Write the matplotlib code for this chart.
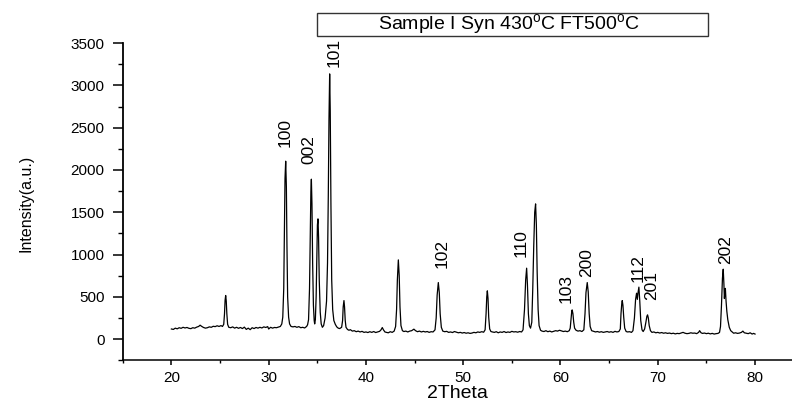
import matplotlib
matplotlib.use("Agg")
import matplotlib.pyplot as plt
from matplotlib.patches import Rectangle
from matplotlib.ticker import MultipleLocator

plt.rcParams['font.family'] = ['Liberation Sans', 'DejaVu Sans']
plt.rcParams['mathtext.fontset'] = 'custom'
plt.rcParams['mathtext.rm'] = 'Liberation Sans'

# XRD pattern (2theta, counts)
two_theta = [
    20.0, 20.2, 20.4, 20.6, 20.8, 21.0, 21.2, 21.4, 21.6, 21.8, 22.0, 22.2, 22.4, 22.6, 22.8, 22.95,
    23.1, 23.3, 23.5, 23.7, 23.9, 24.1, 24.3, 24.5, 24.7, 24.9, 25.1, 25.25,
    25.38, 25.46, 25.52, 25.58, 25.64, 25.7, 25.78, 25.9,
    26.1, 26.3, 26.5, 26.7, 26.9, 27.1, 27.3, 27.5, 27.7, 27.9, 28.1, 28.3, 28.5, 28.7, 28.9, 29.1,
    29.3, 29.5, 29.7, 29.9, 30.0, 30.2, 30.4, 30.6, 30.8, 31.0, 31.2, 31.35,
    31.45, 31.55, 31.62, 31.68, 31.75, 31.82, 31.88, 31.95, 32.05, 32.15, 32.3,
    32.5, 32.7, 32.9, 33.1, 33.3, 33.5, 33.7, 33.9, 34.0,
    34.1, 34.2, 34.28, 34.34, 34.39, 34.45, 34.52, 34.6, 34.68, 34.73, 34.8,
    34.88, 34.95, 35.01, 35.07, 35.13, 35.2, 35.3, 35.4, 35.52, 35.65, 35.8,
    35.95, 36.05, 36.13, 36.2, 36.27, 36.33, 36.4, 36.48, 36.58, 36.7, 36.85, 37.0, 37.15, 37.3, 37.5,
    37.6, 37.66, 37.74, 37.8, 37.87, 37.95, 38.1, 38.25, 38.4, 38.6, 38.8, 39.0, 39.2, 39.4, 39.6,
    39.8, 40.0, 40.2, 40.4, 40.6, 40.8, 41.0, 41.2, 41.4, 41.55, 41.68, 41.8, 41.95, 42.1, 42.3,
    42.5, 42.7, 42.9, 43.05,
    43.15, 43.23, 43.33, 43.42, 43.5, 43.6, 43.75, 43.9, 44.1, 44.3, 44.5, 44.7, 44.93, 45.1, 45.3,
    45.5, 45.7, 45.9, 46.1, 46.3, 46.5, 46.7, 46.9, 47.1,
    47.22, 47.32, 47.44, 47.54, 47.63, 47.75, 47.9, 48.1, 48.3, 48.5, 48.7, 48.9, 49.1, 49.3, 49.5,
    49.7, 49.9, 50.1, 50.3, 50.5, 50.7, 50.9, 51.1, 51.3, 51.5, 51.7, 51.9, 52.1, 52.25,
    52.35, 52.42, 52.48, 52.55, 52.62, 52.72, 52.85, 53.0, 53.2, 53.4, 53.6, 53.8, 54.0, 54.2, 54.4,
    54.6, 54.8, 55.0, 55.2, 55.4, 55.6, 55.8, 56.0, 56.15,
    56.3, 56.42, 56.52, 56.6, 56.7, 56.8, 56.92, 57.05,
    57.15, 57.25, 57.35, 57.44, 57.52, 57.6, 57.7, 57.8, 57.95, 58.1, 58.3, 58.5, 58.7, 58.9, 59.1,
    59.3, 59.5, 59.7, 59.9, 60.1, 60.3, 60.5, 60.7, 60.9, 61.0,
    61.08, 61.15, 61.2, 61.28, 61.36, 61.45, 61.6, 61.8, 62.0, 62.2, 62.4,
    62.52, 62.62, 62.75, 62.85, 62.95, 63.05, 63.2, 63.4, 63.6, 63.8, 64.0, 64.2, 64.4, 64.6, 64.8,
    65.0, 65.2, 65.4, 65.6, 65.8, 66.0, 66.15,
    66.22, 66.3, 66.35, 66.42, 66.5, 66.6, 66.75, 66.9, 67.1, 67.3, 67.45,
    67.6, 67.72, 67.82, 67.9, 67.96, 68.06, 68.15, 68.25, 68.38, 68.5, 68.65,
    68.78, 68.88, 68.95, 69.03, 69.12, 69.25, 69.4, 69.6, 69.8, 70.0, 70.2, 70.4, 70.6, 70.8, 71.0,
    71.2, 71.4, 71.6, 71.8, 72.0, 72.2, 72.4, 72.6, 72.8, 73.0, 73.2, 73.4, 73.6, 73.8, 74.0,
    74.2, 74.3, 74.45, 74.6, 74.8, 75.0, 75.2, 75.4, 75.6, 75.8, 76.0, 76.2, 76.35,
    76.45, 76.55, 76.65, 76.73, 76.8, 76.85, 76.9, 76.95, 77.02, 77.1, 77.2, 77.35, 77.5, 77.65, 77.8,
    78.0, 78.2, 78.4, 78.6, 78.75, 78.9, 79.1, 79.3, 79.5, 79.7, 79.85, 80.0,
]
intensity = [
    120, 115, 130, 122, 135, 128, 140, 132, 138, 128, 124, 135, 130, 142, 150, 165,
    152, 138, 130, 135, 145, 140, 152, 148, 158, 150, 160, 150,
    175, 300, 460, 516, 450, 300, 175, 140,
    135, 145, 130, 140, 128, 138, 125, 142, 115, 130, 112, 135, 125, 138, 130, 140,
    132, 145, 138, 148, 120, 140, 130, 138, 135, 142, 150, 180,
    260, 600, 1300, 1900, 2104, 1800, 1100, 500, 260, 180, 150,
    145, 150, 140, 148, 135, 140, 132, 150, 170,
    230, 600, 1300, 1750, 1891, 1600, 900, 400, 220, 180, 230,
    500, 1000, 1350, 1422, 1200, 700, 320, 180, 140, 160, 250,
    450, 900, 1700, 2600, 3136, 2700, 1600, 700, 350, 220, 175, 145, 130, 125, 140,
    220, 380, 456, 380, 220, 140, 115, 105, 112, 95, 100, 88, 95, 85, 92,
    80, 85, 78, 88, 80, 90, 78, 85, 92, 110, 137, 110, 85, 80, 75,
    88, 80, 95, 150,
    350, 700, 937, 750, 380, 160, 100, 90, 95, 85, 95, 100, 118, 100, 88,
    95, 85, 92, 85, 90, 80, 88, 85, 110,
    250, 520, 669, 550, 300, 140, 95, 88, 92, 80, 85, 78, 90, 82, 75,
    80, 72, 78, 70, 75, 68, 72, 80, 75, 85, 80, 88, 82, 110,
    300, 500, 571, 480, 260, 120, 90, 85, 80, 88, 75, 85, 80, 90, 78,
    85, 80, 92, 85, 88, 82, 90, 85, 110,
    350, 700, 839, 650, 300, 160, 130, 200,
    600, 1100, 1500, 1599, 1350, 800, 350, 160, 105, 95, 90, 100, 88, 95, 85,
    92, 100, 95, 105, 98, 90, 95, 88, 100, 130,
    230, 320, 346, 300, 200, 130, 105, 95, 100, 90, 110,
    300, 550, 669, 560, 300, 150, 100, 92, 85, 90, 82, 88, 80, 85, 90,
    82, 88, 80, 92, 85, 90, 120,
    300, 420, 456, 400, 260, 130, 90, 85, 88, 80, 100,
    250, 470, 543, 470, 540, 615, 450, 220, 110, 90, 120,
    200, 270, 287, 250, 160, 100, 80, 85, 75, 80, 72, 78, 70, 75, 68,
    72, 65, 70, 62, 68, 65, 72, 80, 70, 65, 68, 75, 70, 72, 65,
    80, 100, 75, 68, 72, 65, 70, 62, 68, 60, 65, 68, 80,
    150, 400, 720, 827, 650, 480, 560, 600, 450, 330, 230, 140, 100, 85, 70,
    75, 68, 72, 80, 95, 75, 70, 65, 75, 60, 68, 60,
]

# peak labels (hkl), anchored just above each peak
hkl = ['100', '002', '101', '102', '110', '103', '200', '112', '201', '202']
hkl_x = [31.72, 34.18, 36.68, 47.8, 56.0, 60.58, 62.68, 67.98, 69.4, 76.94]
hkl_y = [2273, 2072, 3222, 839, 969, 426, 740, 681, 465, 890]

fig = plt.figure(figsize=(7.92, 4.03), dpi=100)
ax = fig.add_axes([0.155, 0.106, 0.845, 0.787])

ax.plot(two_theta, intensity, color='black', lw=0.9)

for lab, x, y in zip(hkl, hkl_x, hkl_y):
    ax.text(x, y, lab, rotation=90, ha='center', va='bottom', fontsize=12.5)

ax.set_xlim(15, 83.8)
ax.set_ylim(-250, 3500)
ax.xaxis.set_major_locator(MultipleLocator(10))
ax.xaxis.set_minor_locator(MultipleLocator(5))
ax.yaxis.set_major_locator(MultipleLocator(500))
ax.yaxis.set_minor_locator(MultipleLocator(250))

ax.spines['top'].set_visible(False)
ax.spines['right'].set_visible(False)
ax.spines['left'].set_linewidth(1.3)
ax.spines['bottom'].set_linewidth(1.1)

ax.tick_params(axis='y', which='major', direction='out', length=7, width=1.1, pad=6, labelsize=11)
ax.tick_params(axis='y', which='minor', direction='out', length=3.5, width=1.0)
ax.tick_params(axis='x', which='major', direction='out', length=3.5, width=1.1, pad=4.5, labelsize=11)
ax.tick_params(axis='x', which='minor', direction='out', length=1.8, width=1.0)

ax.set_xlabel('2Theta', fontsize=14, labelpad=0)
ax.set_ylabel('Intensity(a.u.)', fontsize=11.5)
ax.yaxis.set_label_coords(-0.134, 0.4945)

# boxed title at the top
fig.patches.append(Rectangle((0.400, 0.9114), 0.494, 0.0556, transform=fig.transFigure,
                             fill=False, edgecolor='#333333', lw=1.0))
fig.text(0.643, 0.939, r'Sample I Syn 430$^{\mathrm{o}}$C FT500$^{\mathrm{o}}$C',
         ha='center', va='center', fontsize=14)

fig.savefig('out.png', dpi=100)
